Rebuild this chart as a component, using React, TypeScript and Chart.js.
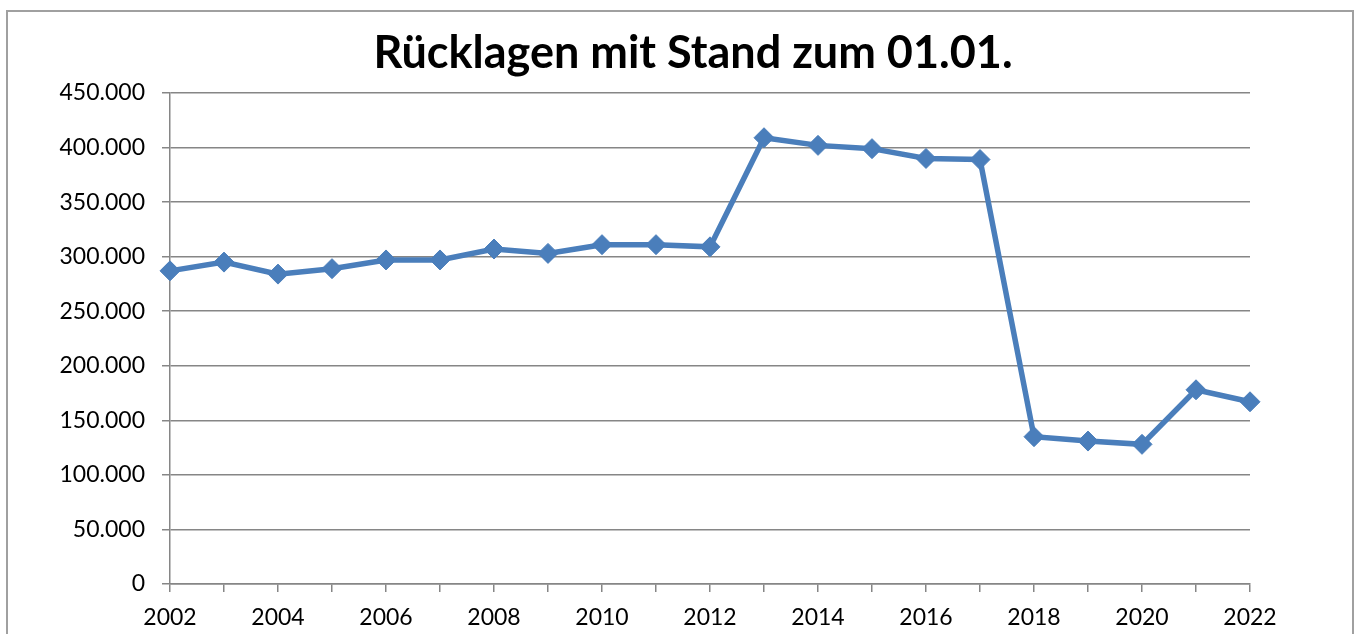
import React, { useEffect, useRef } from "react";
import { Chart, registerables } from "chart.js";

Chart.register(...registerables);

const years: string[] = [
  "2002", "2003", "2004", "2005", "2006", "2007", "2008", "2009", "2010", "2011",
  "2012", "2013", "2014", "2015", "2016", "2017", "2018", "2019", "2020", "2021", "2022",
];
const reserves: number[] = [
  287000, 295000, 284000, 289000, 297000, 297000, 307000, 303000, 311000, 311000,
  309000, 409000, 402000, 399000, 390000, 389000, 135000, 131000, 128000, 178000, 167000,
];
const titleText = "Rücklagen mit Stand zum 01.01.";
const yMin = 0;
const yMax = 450000;
const yStep = 50000;

function fmt(v: number): string {
  const s = Math.round(v).toString();
  return s.replace(/\B(?=(\d{3})+(?!\d))/g, ".");
}

const FONT = "Lato, 'Open Sans', sans-serif";

const titlePlugin = {
  id: "centeredTitle",
  afterDraw(chart: any) {
    const ctx = chart.ctx;
    ctx.save();
    ctx.font = `bold 45px ${FONT}`;
    ctx.fillStyle = "#000";
    ctx.textAlign = "center";
    ctx.textBaseline = "middle";
    ctx.fillText(titleText, 693, 53);
    ctx.restore();
  },
};

export default function App() {
  const ref = useRef<HTMLCanvasElement | null>(null);
  useEffect(() => {
    if (!ref.current) return;
    const grid = "#868686";
    const chart = new Chart(ref.current, {
      type: "line",
      data: {
        labels: years,
        datasets: [
          {
            data: reserves,
            borderColor: "#4a7ebb",
            backgroundColor: "#4a7ebb",
            borderWidth: 5.5,
            pointStyle: "rectRot",
            pointRadius: 10,
            pointBorderWidth: 1,
            pointBorderColor: "#4a7ebb",
            tension: 0,
          },
        ],
      },
      options: {
        responsive: false,
        animation: false,
        layout: { padding: { left: 0, right: 108, top: 93, bottom: 0 } },
        plugins: {
          legend: { display: false },
          tooltip: { enabled: false },
          title: { display: false },
        },
        scales: {
          x: {
            afterFit: (s: any) => {
              s.height = 50;
            },
            grid: {
              drawOnChartArea: false,
              drawTicks: true,
              tickLength: 8,
              color: grid,
              lineWidth: 1.5,
            },
            border: { display: true, color: grid, width: 1.5 },
            ticks: {
              autoSkip: false,
              maxRotation: 0,
              padding: 12,
              color: "#000",
              font: { family: FONT, size: 23 },
              callback: (_v: any, i: number) => (i % 2 === 0 ? years[i] : ""),
            },
          },
          y: {
            min: yMin,
            max: yMax,
            afterFit: (s: any) => {
              s.width = 170;
            },
            grid: {
              drawOnChartArea: true,
              drawTicks: true,
              tickLength: 8,
              color: grid,
              lineWidth: 1.5,
            },
            border: { display: true, color: grid, width: 1.5 },
            ticks: {
              stepSize: yStep,
              padding: 17,
              color: "#000",
              font: { family: FONT, size: 23 },
              callback: (v: any) => fmt(Number(v)),
            },
          },
        },
      },
      plugins: [titlePlugin],
    });
    return () => chart.destroy();
  }, []);
  return (
    <div
      style={{
        position: "absolute",
        left: 0,
        top: 0,
        width: 1358,
        height: 634,
        overflow: "hidden",
        background: "#fff",
      }}
    >
      <div
        style={{
          position: "absolute",
          left: 6,
          top: 10,
          width: 1348,
          height: 700,
          border: "2px solid #a0a0a0",
          boxSizing: "border-box",
        }}
      />
      <canvas
        ref={ref}
        width={1358}
        height={634}
        style={{ position: "absolute", left: 0, top: 0 }}
      />
    </div>
  );
}
